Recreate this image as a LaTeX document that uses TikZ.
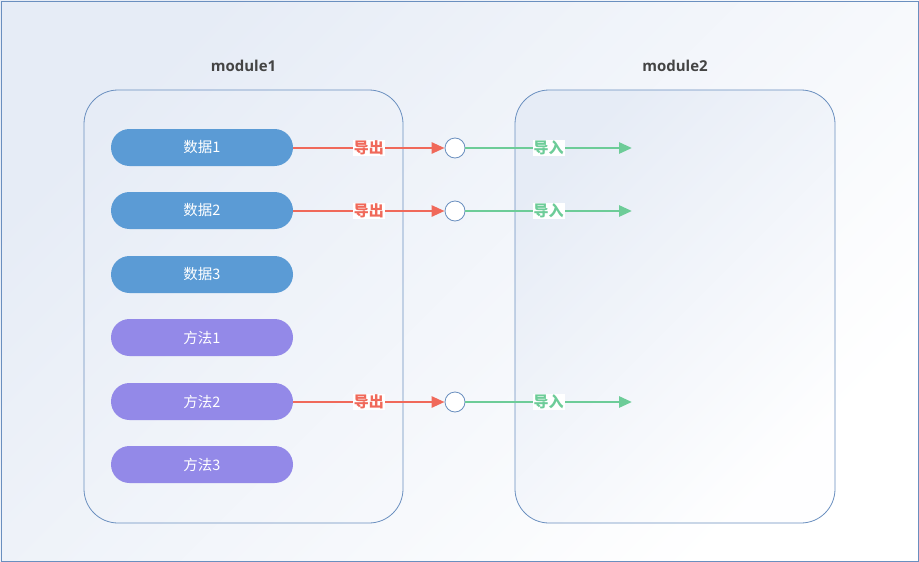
\documentclass[tikz,border=0pt]{standalone}
\usepackage{fontspec}
\setmainfont{Open Sans}
\newfontfamily\cjk{Noto Sans CJK SC}
\usetikzlibrary{arrows.meta}
\definecolor{frame}{HTML}{6A8FBF}
\definecolor{bgtl}{HTML}{E6ECF6}
\definecolor{pillblue}{HTML}{5B9BD5}
\definecolor{pillpurple}{HTML}{9389E8}
\definecolor{exportred}{HTML}{F0695A}
\definecolor{importgreen}{HTML}{6DCC98}
\definecolor{titlegray}{HTML}{444444}
\tikzset{
  x=1pt, y=-1pt,
  modbox/.style={draw=frame, line width=0.8pt, rounded corners=34pt},
  pill/.style={rounded corners=18.5pt, minimum width=182pt, minimum height=37pt, inner sep=0pt, text=white, font=\cjk\fontsize{14.5}{16}\selectfont},
  datapill/.style={pill, fill=pillblue},
  methodpill/.style={pill, fill=pillpurple},
  hub/.style={circle, draw=frame, fill=white, line width=0.8pt, minimum size=20pt, inner sep=0pt},
  exparrow/.style={draw=exportred, line width=2.7pt, -{Triangle[length=13pt,width=11pt]}},
  imparrow/.style={draw=importgreen, line width=2.7pt, -{Triangle[length=13pt,width=11pt]}},
  explabel/.style={fill=white, inner sep=1pt, text=exportred, font=\cjk\bfseries\fontsize{15}{17}\selectfont},
  implabel/.style={fill=white, inner sep=1pt, text=importgreen, font=\cjk\bfseries\fontsize{15}{17}\selectfont},
  modtitle/.style={text=titlegray, font=\bfseries\fontsize{15}{18}\selectfont},
}
\begin{document}
\begin{tikzpicture}
\useasboundingbox (0,0) rectangle (919,562);
\shade[top color=bgtl, bottom color=white, shading angle=45] (0,0) rectangle (919,562);
\draw[frame, line width=0.8pt] (1,1) rectangle (918,561);
% modules
\draw[modbox] (84,90) rectangle (403,523);
\shade[top color=bgtl, bottom color=white!95!bgtl, shading angle=45, rounded corners=34pt] (515,90) rectangle (835,523);
\draw[modbox] (515,90) rectangle (835,523);
\node[modtitle] (t1) at (243.5,66) {module1};
\node[modtitle] (t2) at (675,66) {module2};
% pills
\node[datapill] (d1) at (202,147.5) {数据1};
\node[datapill] (d2) at (202,210.5) {数据2};
\node[datapill] (d3) at (202,274.5) {数据3};
\node[methodpill] (m1) at (202,337.5) {方法1};
\node[methodpill] (m2) at (202,401.5) {方法2};
\node[methodpill] (m3) at (202,464.5) {方法3};
% hubs
\node[hub] (h1) at (455,148) {};
\node[hub] (h2) at (455,211) {};
\node[hub] (h3) at (455,402) {};
% import ends
\coordinate (e1) at (632,148);
\coordinate (e2) at (632,211);
\coordinate (e3) at (632,402);
% arrows
\foreach \p/\h/\e in {d1/h1/e1, d2/h2/e2, m2/h3/e3}{
  \draw[exparrow] (\p.east |- \h) -- (\h.west) node[pos=0.5, explabel] {导出};
  \draw[imparrow] (\h.east) -- (\e) node[pos=0.5, implabel] {导入};
}
\end{tikzpicture}
\end{document}
